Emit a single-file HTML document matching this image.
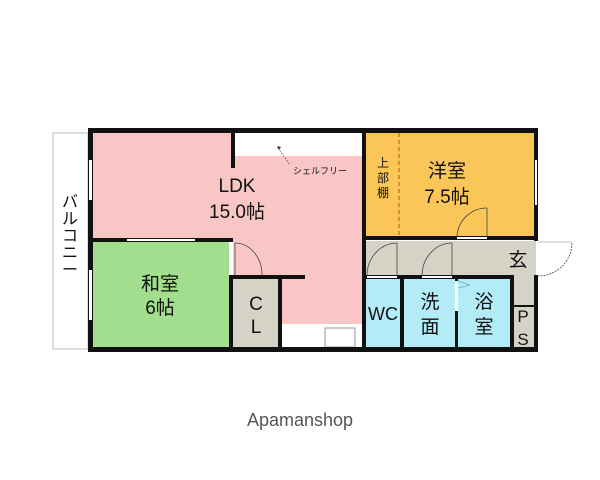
<!DOCTYPE html>
<html><head><meta charset="utf-8"><style>
html,body{margin:0;padding:0;background:#fff;width:600px;height:480px;overflow:hidden}
text{font-family:"Liberation Sans","Noto Sans CJK JP",sans-serif;fill:#111}
</style></head><body>
<svg width="600" height="480" viewBox="0 0 600 480" xmlns="http://www.w3.org/2000/svg">
<rect x="53" y="133" width="35" height="216" fill="#fff" stroke="#bbb" stroke-width="1"/>
<rect x="93" y="133" width="270" height="215" fill="#f9c6c6"/>
<rect x="235" y="133" width="128" height="23" fill="#fff"/>
<rect x="282" y="324" width="81" height="24" fill="#fff"/>
<rect x="325" y="328" width="30" height="19" fill="#fff" stroke="#999" stroke-width="1"/>
<rect x="93" y="242" width="136" height="106" fill="#a3dd8e"/>
<rect x="229" y="242" width="4" height="106" fill="#fff"/>
<rect x="233" y="279" width="45" height="69" fill="#d5d2c6"/>
<rect x="366" y="133" width="168" height="104" fill="#fbc658"/>
<line x1="399" y1="133" x2="399" y2="237" stroke="#b05a00" stroke-width="1" stroke-dasharray="4,3"/>
<rect x="366" y="241" width="170" height="35" fill="#d5d2c6"/>
<rect x="510" y="276" width="25" height="72" fill="#d5d2c6"/>
<rect x="366" y="279" width="34" height="69" fill="#b3ebf7"/>
<rect x="404" y="279" width="51" height="69" fill="#b3ebf7"/>
<rect x="458" y="279" width="52" height="69" fill="#b3ebf7"/>
<g fill="#111">
<rect x="88" y="128" width="450" height="5"/>
<rect x="88" y="347" width="450" height="5"/>
<rect x="88" y="128" width="5" height="224"/>
<rect x="231" y="128" width="4" height="40"/>
<rect x="362" y="128" width="4" height="224"/>
<rect x="534" y="128" width="4" height="113"/>
<rect x="534" y="275" width="4" height="77"/>
<rect x="362" y="236" width="176" height="4"/>
<rect x="93" y="238" width="140" height="4"/>
<rect x="229" y="275" width="76" height="4"/>
<rect x="229" y="275" width="4" height="73"/>
<rect x="278" y="275" width="4" height="73"/>
<rect x="362" y="275" width="152" height="4"/>
<rect x="400" y="275" width="4" height="73"/>
<rect x="455" y="275" width="3" height="73"/>
<rect x="510" y="275" width="4" height="73"/>
<rect x="510" y="305" width="25" height="2"/>
</g>
<rect x="127" y="239" width="68" height="2" fill="#fff"/>
<rect x="89" y="160" width="3" height="40" fill="#fff"/>
<rect x="89" y="270" width="3" height="50" fill="#fff"/>
<rect x="535" y="160" width="2" height="45" fill="#fff"/>
<rect x="457" y="237" width="30" height="2" fill="#fff"/>
<rect x="367" y="276" width="30" height="2" fill="#fff"/>
<rect x="422" y="276" width="30" height="2" fill="#fff"/>
<rect x="455" y="281" width="3" height="30" fill="#fff"/>
<g fill="none" stroke="#444" stroke-width="0.8">
<path d="M235 243 A27 32 0 0 1 262 275"/><line x1="235" y1="243" x2="235" y2="275"/>
<path d="M487 208 A30 30 0 0 0 457 237"/><line x1="487" y1="208" x2="487" y2="237"/>
<path d="M397 243 A30 33 0 0 0 367 275"/><line x1="397" y1="243" x2="397" y2="275"/>
<path d="M452 243 A30 33 0 0 0 422 275"/><line x1="452" y1="243" x2="452" y2="275"/>
<path d="M572 243 A34 33 0 0 1 538 276" stroke-dasharray="2,1"/><line x1="538" y1="242" x2="572" y2="242" stroke="#aaa"/>
<line x1="458" y1="281" x2="470" y2="285" stroke="#7ac"/><line x1="458" y1="288" x2="470" y2="285" stroke="#7ac"/>
<line x1="278" y1="148" x2="290" y2="165" stroke-dasharray="1.5,1.5"/>
</g>
<path d="M277 146 l4 1 -2 3z" fill="#333"/>
<text x="293" y="174" font-size="9">シェルフリー</text>
<text x="237" y="192" font-size="19" text-anchor="middle">LDK</text>
<text x="237" y="218" font-size="19" text-anchor="middle">15.0帖</text>
<g font-size="16" text-anchor="middle"><text x="70" y="207">バ</text><text x="70" y="224">ル</text><text x="70" y="241">コ</text><text x="70" y="258">ニ</text><text x="70" y="275">ー</text></g>
<text x="160" y="290" font-size="19" text-anchor="middle">和室</text>
<text x="160" y="314" font-size="19" text-anchor="middle">6帖</text>
<text x="256" y="310" font-size="19" text-anchor="middle">C</text>
<text x="256" y="333" font-size="19" text-anchor="middle">L</text>
<g font-size="12" text-anchor="middle"><text x="383" y="167">上</text><text x="383" y="182">部</text><text x="383" y="197">棚</text></g>
<text x="447" y="177" font-size="19" text-anchor="middle">洋室</text>
<text x="447" y="203" font-size="19" text-anchor="middle">7.5帖</text>
<text x="518" y="266" font-size="19" text-anchor="middle">玄</text>
<text x="383" y="320" font-size="18" text-anchor="middle">WC</text>
<text x="430" y="308" font-size="19" text-anchor="middle">洗</text>
<text x="430" y="333" font-size="19" text-anchor="middle">面</text>
<text x="484" y="308" font-size="19" text-anchor="middle">浴</text>
<text x="484" y="333" font-size="19" text-anchor="middle">室</text>
<text x="523" y="322" font-size="17" text-anchor="middle">P</text>
<text x="523" y="345" font-size="17" text-anchor="middle">S</text>
<text x="300" y="426" font-size="18" text-anchor="middle" style="fill:#555">Apamanshop</text>
</svg>
</body></html>
